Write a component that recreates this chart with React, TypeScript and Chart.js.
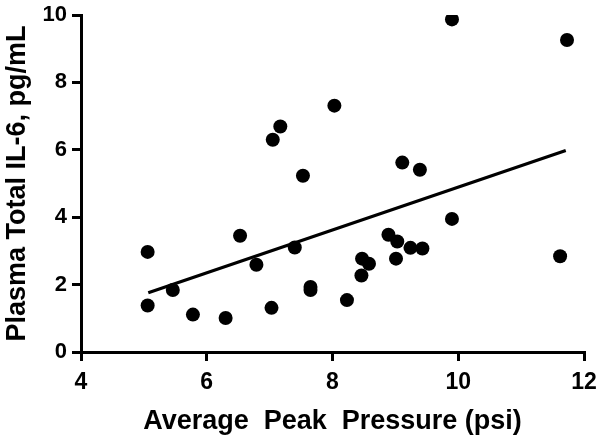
import React, { useEffect, useRef } from "react";
import { Chart, registerables } from "chart.js";

Chart.register(...registerables);

const pressureX: number[] = [
  5.06, 5.06, 5.46, 5.78, 6.3, 6.53, 6.79, 7.03, 7.4, 7.05, 7.17, 7.53, 7.65, 7.65, 8.03,
  8.23, 8.46, 8.47, 8.58, 8.89, 9.01, 9.03, 9.11, 9.24, 9.39, 9.43, 9.9, 9.9, 11.62, 11.73,
];
const il6Y: number[] = [
  2.97, 1.38, 1.84, 1.11, 1.01, 3.45, 2.59, 1.31, 3.1, 6.3, 6.69, 5.23, 1.93, 1.84, 7.31,
  1.54, 2.27, 2.77, 2.62, 3.48, 2.77, 3.28, 5.62, 3.09, 5.41, 3.07, 9.87, 3.95, 2.84, 9.26,
];
const fitX: number[] = [5.07, 11.71];
const fitY: number[] = [1.76, 5.98];

const xTicks: number[] = [4, 6, 8, 10, 12];
const yTicks: number[] = [0, 2, 4, 6, 8, 10];

const FONT = "'Liberation Sans', Arial, sans-serif";

export default function App() {
  const ref = useRef<HTMLCanvasElement | null>(null);

  useEffect(() => {
    if (!ref.current) return;
    const chart = new Chart(ref.current, {
      type: "scatter",
      data: {
        datasets: [
          {
            data: pressureX.map((x, i) => ({ x, y: il6Y[i] })),
            backgroundColor: "#000",
            borderColor: "#000",
            borderWidth: 0,
            pointRadius: 7,
            pointHoverRadius: 7,
          },
          {
            data: fitX.map((x, i) => ({ x, y: fitY[i] })),
            showLine: true,
            borderColor: "#000",
            borderWidth: 3.2,
            pointRadius: 0,
            fill: false,
          },
        ],
      },
      options: {
        animation: false,
        responsive: true,
        maintainAspectRatio: false,
        layout: { padding: 0 },
        plugins: { legend: { display: false }, tooltip: { enabled: false } },
        scales: {
          x: {
            type: "linear",
            min: 4,
            max: 12,
            afterBuildTicks: (s: any) => {
              s.ticks = xTicks.map((v) => ({ value: v }));
            },
            afterFit: (s: any) => {
              s.height = 89;
              s.paddingLeft = 0;
              s.paddingRight = 20;
            },
            ticks: {
              color: "#000",
              font: { family: FONT, size: 23, weight: "bold" },
              padding: 8,
            },
            grid: {
              drawOnChartArea: false,
              drawTicks: true,
              tickLength: 9,
              tickWidth: 3,
              tickColor: "#000",
              color: "#000",
              lineWidth: 3,
            },
            border: { display: true, color: "#000", width: 3 },
            title: {
              display: true,
              text: "Average  Peak  Pressure (psi)",
              color: "#000",
              font: { family: FONT, size: 27, weight: "bold" },
              padding: { top: 0, bottom: 3 },
            },
          },
          y: {
            type: "linear",
            min: 0,
            max: 10,
            afterBuildTicks: (s: any) => {
              s.ticks = yTicks.map((v) => ({ value: v }));
            },
            afterFit: (s: any) => {
              s.width = 81;
              s.paddingTop = 15;
              s.paddingBottom = 0;
            },
            ticks: {
              color: "#000",
              font: { family: FONT, size: 22, weight: "bold" },
              padding: 5,
            },
            grid: {
              drawOnChartArea: false,
              drawTicks: true,
              tickLength: 9,
              tickWidth: 3,
              tickColor: "#000",
              color: "#000",
              lineWidth: 3,
            },
            border: { display: true, color: "#000", width: 3 },
            title: {
              display: true,
              text: "Plasma Total IL-6, pg/mL",
              color: "#000",
              font: { family: FONT, size: 27, weight: "bold" },
              padding: { top: 1, bottom: 0 },
            },
          },
        },
      },
    } as any);
    return () => chart.destroy();
  }, []);

  return (
    <div style={{ position: "fixed", left: 0, top: 0, width: 604, height: 441, background: "#fff" }}>
      <canvas ref={ref} />
    </div>
  );
}
